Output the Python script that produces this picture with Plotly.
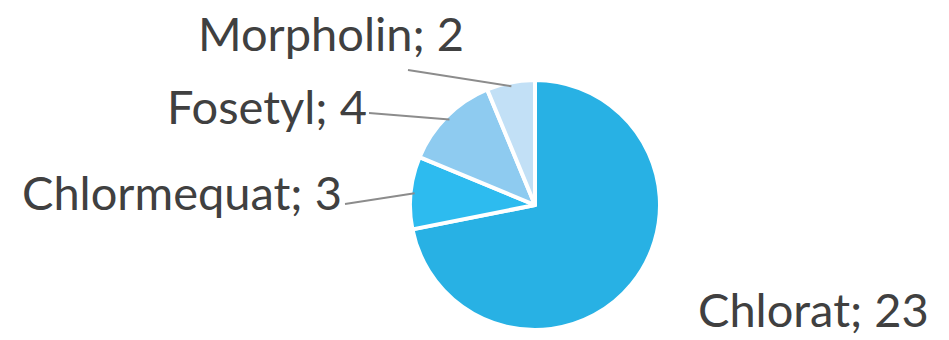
import math
import plotly.graph_objects as go

# ---- data ----
labels = ["Chlorat", "Chlormequat", "Fosetyl", "Morpholin"]
values = [23, 3, 4, 2]

# ---- styles / layout ----
W, H = 949, 340
colors = ["#28b1e4", "#2dbbef", "#8ecbf0", "#c2e0f6"]
CX, CY, R = 535, 205, 125          # pie centre / radius in pixels
FONT = dict(family="Lato, 'Open Sans', sans-serif", size=47, color="#404040")

# label placement (pixels): (x, y_center, xanchor, leader end x, leader end y)
label_pos = {
    "Morpholin": (466, 33, "right", 408, 70),
    "Fosetyl": (369, 106, "right", 369, 113),
    "Chlormequat": (344, 192, "right", 345, 204),
    "Chlorat": (696, 309, "left", None, None),
}

fig = go.Figure()
fig.add_trace(go.Pie(
    labels=labels, values=values, sort=False, direction="clockwise", rotation=0,
    marker=dict(colors=colors, line=dict(color="white", width=4)),
    textinfo="none", hoverinfo="label+value", showlegend=False,
    domain=dict(x=[(CX - R) / W, (CX + R) / W], y=[(H - CY - R) / H, (H - CY + R) / H]),
))

def px(x):
    return x / W

def py(y):
    return 1 - y / H

total = sum(values)
cum = 0
annotations, shapes = [], []
for lab, v in zip(labels, values):
    mid = (cum + v / 2) / total * 2 * math.pi
    cum += v
    ex = CX + (R - 4) * math.sin(mid)
    ey = CY - (R - 4) * math.cos(mid)
    x, y, anc, lx, ly = label_pos[lab]
    annotations.append(dict(
        x=px(x), y=py(y), xref="paper", yref="paper", xanchor=anc, yanchor="middle",
        text=f"{lab}; {v}", showarrow=False, font=FONT,
    ))
    if lx is not None:
        shapes.append(dict(type="line", xref="paper", yref="paper",
                           x0=px(lx), y0=py(ly), x1=px(ex), y1=py(ey),
                           line=dict(color="#8c8c8c", width=2)))

fig.update_layout(
    width=W, height=H, margin=dict(l=0, r=0, t=0, b=0),
    paper_bgcolor="white", plot_bgcolor="white",
    annotations=annotations, shapes=shapes,
)
fig.write_html("out.html")
